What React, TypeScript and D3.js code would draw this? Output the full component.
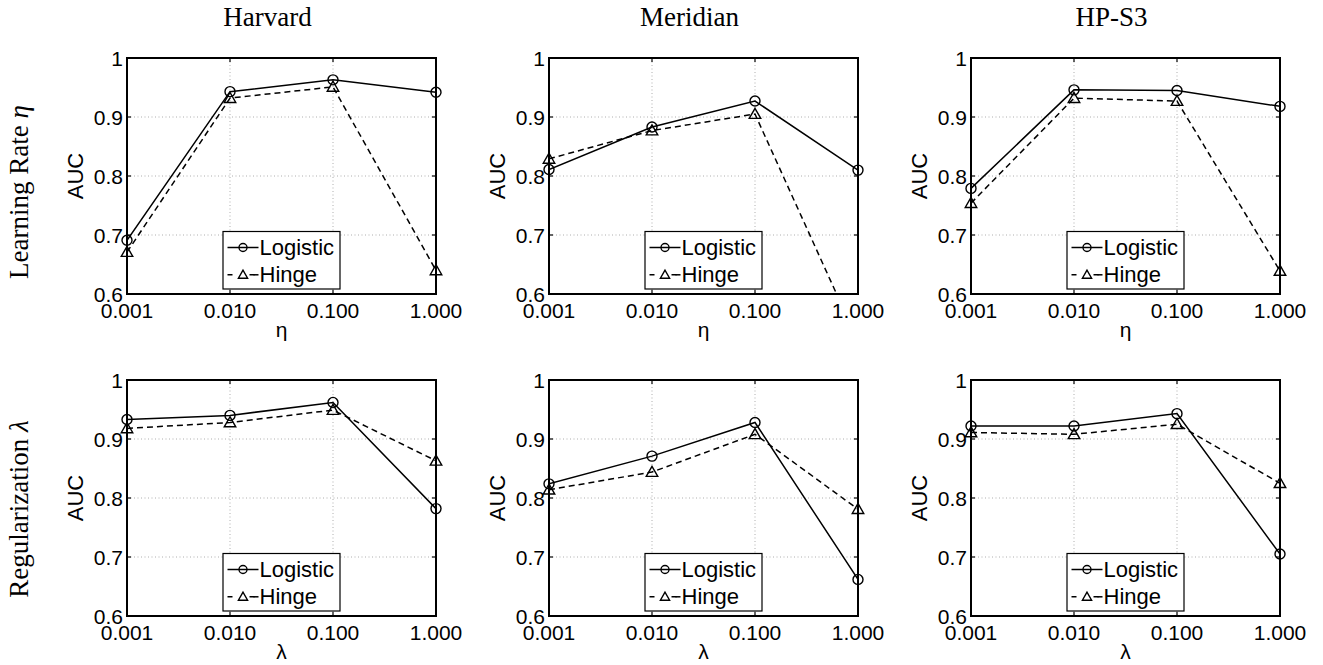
import React from "react";
import * as d3 from "d3";

// x values shared by every panel (log-spaced)
const xValues = [0.001, 0.01, 0.1, 1];
const xTicks = [0.001, 0.01, 0.1, 1];
const yTicks = [0.6, 0.7, 0.8, 0.9, 1];

const datasets = ["Harvard", "Meridian", "HP-S3"];
const seriesNames = ["Logistic", "Hinge"];

// learning rate eta, rows = datasets
const etaLogistic = [
  [0.691, 0.943, 0.963, 0.942],
  [0.811, 0.883, 0.927, 0.81],
  [0.779, 0.946, 0.945, 0.918],
];
const etaHinge = [
  [0.671, 0.932, 0.951, 0.64],
  [0.829, 0.877, 0.905, 0.52],
  [0.754, 0.932, 0.927, 0.639],
];

// regularization lambda
const lambdaLogistic = [
  [0.933, 0.94, 0.962, 0.782],
  [0.824, 0.871, 0.928, 0.662],
  [0.922, 0.922, 0.943, 0.705],
];
const lambdaHinge = [
  [0.918, 0.928, 0.949, 0.863],
  [0.814, 0.844, 0.908, 0.781],
  [0.911, 0.908, 0.925, 0.825],
];

const rows = [
  { label: "Learning Rate ", sym: "η", xLabel: "η", logistic: etaLogistic, hinge: etaHinge },
  { label: "Regularization ", sym: "λ", xLabel: "λ", logistic: lambdaLogistic, hinge: lambdaHinge },
];

const W = 1323,
  H = 665;
const colLeft = [127, 549, 971];
const rowTop = [58, 380];
const pw = 309,
  ph = 236;
const rowLabelY = [192, 509];
const sans = "'Liberation Sans', Arial, Helvetica, sans-serif";
const serif = "'Liberation Serif', 'Times New Roman', serif";

const Marker = ({ kind, x, y, r }: { kind: number; x: number; y: number; r: number }) => {
  if (kind === 0) return <circle cx={x} cy={y} r={r} fill="none" stroke="#000" strokeWidth={1.4} />;
  const s = r * 1.15;
  const pts = `${x},${y - s} ${x - s},${y + s * 0.75} ${x + s},${y + s * 0.75}`;
  return <polygon points={pts} fill="none" stroke="#000" strokeWidth={1.4} />;
};

const Panel = ({ left, top, series, xLabel, clipId }: any) => {
  const x = d3.scaleLog().domain([0.001, 1]).range([left, left + pw]);
  const y = d3.scaleLinear().domain([0.6, 1]).range([top + ph, top]);
  const line = d3
    .line<number>()
    .x((d, i) => x(xValues[i]))
    .y((d) => y(d));
  const fmt = d3.format(".3f");
  const cx = left + pw / 2;
  const lgL = cx - 58.5,
    lgT = top + ph - 62.5;

  return (
    <g>
      <defs>
        <clipPath id={clipId}>
          <rect x={left} y={top} width={pw} height={ph} />
        </clipPath>
      </defs>
      {/* grid */}
      <g stroke="#9a9a9a" strokeWidth={0.8} strokeDasharray="1,2.5">
        {xTicks.slice(1, -1).map((t) => (
          <line key={"gx" + t} x1={x(t)} x2={x(t)} y1={top} y2={top + ph} />
        ))}
        {yTicks.slice(1, -1).map((t) => (
          <line key={"gy" + t} x1={left} x2={left + pw} y1={y(t)} y2={y(t)} />
        ))}
      </g>
      {/* lines */}
      <g clipPath={`url(#${clipId})`} fill="none" stroke="#000" strokeWidth={1.5}>
        {series.map((s: number[], k: number) => (
          <path key={k} d={line(s) || ""} strokeDasharray={k === 1 ? "6,4" : undefined} />
        ))}
      </g>
      {series.map((s: number[], k: number) =>
        s.map((v, i) =>
          v >= 0.6 ? <Marker key={k + "-" + i} kind={k} x={x(xValues[i])} y={y(v)} r={5} /> : null
        )
      )}
      {/* ticks inside */}
      <g stroke="#000" strokeWidth={1.2}>
        {xTicks.map((t) => (
          <g key={"tx" + t}>
            <line x1={x(t)} x2={x(t)} y1={top + ph} y2={top + ph - 4} />
            <line x1={x(t)} x2={x(t)} y1={top} y2={top + 4} />
          </g>
        ))}
        {yTicks.map((t) => (
          <g key={"ty" + t}>
            <line x1={left} x2={left + 4} y1={y(t)} y2={y(t)} />
            <line x1={left + pw} x2={left + pw - 4} y1={y(t)} y2={y(t)} />
          </g>
        ))}
      </g>
      <rect x={left} y={top} width={pw} height={ph} fill="none" stroke="#000" strokeWidth={2} />
      {/* tick labels */}
      <g fontFamily={sans} fontSize={21} fill="#000">
        {xTicks.map((t) => (
          <text key={"lx" + t} x={x(t)} y={top + ph + 24} textAnchor="middle">
            {fmt(t)}
          </text>
        ))}
        {yTicks.map((t) => (
          <text key={"ly" + t} x={left - 4} y={y(t)} textAnchor="end" dominantBaseline="central">
            {d3.format("")(t)}
          </text>
        ))}
        <text x={cx} y={top + ph + 43} textAnchor="middle">
          {xLabel}
        </text>
        <text
          transform={`translate(${left - 44},${top + ph / 2}) rotate(-90)`}
          textAnchor="middle"
          fontSize={22}
        >
          AUC
        </text>
      </g>
      {/* legend */}
      <g>
        <rect x={lgL} y={lgT} width={117} height={57.5} fill="#fff" stroke="#000" strokeWidth={1.2} />
        {seriesNames.map((n, k) => {
          const ly = lgT + 16 + k * 27.3;
          return (
            <g key={n}>
              <line
                x1={lgL + 4.5}
                x2={lgL + 35.5}
                y1={ly}
                y2={ly}
                stroke="#000"
                strokeWidth={1.5}
                strokeDasharray={k === 1 ? "5,17" : undefined}
                strokeDashoffset={k === 1 ? 0 : undefined}
              />
              {k === 1 && <line x1={lgL + 30.5} x2={lgL + 35.5} y1={ly} y2={ly} stroke="#000" strokeWidth={1.5} />}
              <Marker kind={k} x={lgL + 20} y={ly} r={4} />
              <text x={lgL + 36.5} y={ly} dominantBaseline="central" fontFamily={sans} fontSize={22}>
                {n}
              </text>
            </g>
          );
        })}
      </g>
    </g>
  );
};

export default function App() {
  return (
    <svg
      width={W}
      height={H}
      viewBox={`0 0 ${W} ${H}`}
      style={{ position: "absolute", left: 0, top: 0, background: "#fff" }}
    >
      <rect width={W} height={H} fill="#fff" />
      {datasets.map((name, c) => (
        <text
          key={name}
          x={colLeft[c] + pw / 2 - 14}
          y={26}
          textAnchor="middle"
          fontFamily={serif}
          fontSize={27}
        >
          {name}
        </text>
      ))}
      {rows.map((r, ri) => (
        <g key={ri}>
          <text
            transform={`translate(28,${rowLabelY[ri]}) rotate(-90)`}
            textAnchor="middle"
            fontFamily={serif}
            fontSize={27}
          >
            {r.label}
            <tspan fontStyle="italic">{r.sym}</tspan>
          </text>
          {datasets.map((name, c) => (
            <Panel
              key={name}
              left={colLeft[c]}
              top={rowTop[ri]}
              series={[r.logistic[c], r.hinge[c]]}
              xLabel={r.xLabel}
              clipId={`clip-${ri}-${c}`}
            />
          ))}
        </g>
      ))}
    </svg>
  );
}
